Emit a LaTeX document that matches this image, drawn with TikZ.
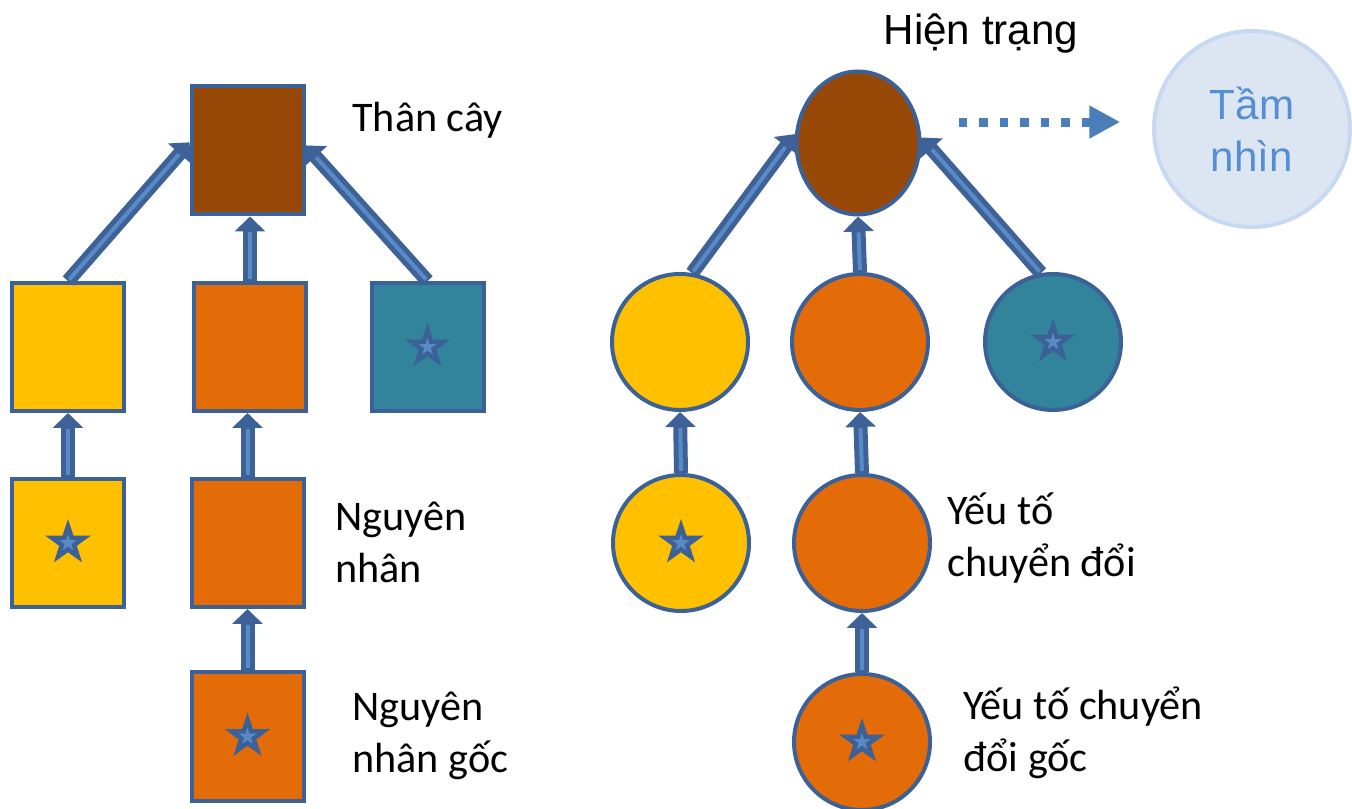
\documentclass[tikz,border=0pt]{standalone}
\usepackage{fontspec}
\setmainfont{Carlito}
\newfontfamily\arialfont{Liberation Sans}
\usetikzlibrary{arrows.meta,shapes.geometric}

\definecolor{edgeblue}{RGB}{60,97,150}
\definecolor{trunk}{RGB}{151,72,6}
\definecolor{gold}{RGB}{255,192,0}
\definecolor{rust}{RGB}{227,108,9}
\definecolor{teal}{RGB}{49,132,155}
\definecolor{arrowdark}{RGB}{62,98,152}
\definecolor{arrowlight}{RGB}{88,138,198}
\definecolor{dotblue}{RGB}{74,126,187}
\definecolor{visionfill}{RGB}{220,230,242}
\definecolor{visionedge}{RGB}{198,217,241}
\definecolor{visiontext}{RGB}{85,142,213}

\begin{document}
\begin{tikzpicture}[
  box/.style={draw=edgeblue, line width=0.08cm, minimum width=2.24cm, minimum height=2.56cm, inner sep=0pt},
  ball/.style={draw=edgeblue, line width=0.08cm, circle, minimum size=2.72cm, inner sep=0pt},
  starmark/.style={star, star points=5, star point ratio=2.6, minimum size=0.96cm, inner sep=0pt,
    fill=edgeblue},
  starcore/.style={star, star points=5, star point ratio=2.6, minimum size=0.36cm, inner sep=0pt,
    fill=arrowlight},
  fatarrow/.style={draw=arrowdark, line width=0.28cm,
    -{Triangle[length=0.3cm, width=0.6cm, fill=arrowdark]},
    postaction={draw=arrowlight, line width=0.08cm, -, shorten >=0.32cm, shorten <=0.04cm}},
  dotarrow/.style={draw=dotblue, line width=0.18cm, dash pattern=on 0.17cm off 0.24cm,
    -{Triangle[length=0.62cm, width=0.62cm]}},
  lbl/.style={inner sep=0pt, align=left, font=\fontsize{24}{29.5}\selectfont}]

\useasboundingbox (0,0) rectangle (27.04,16.16);

% ---------- Left: squares ----------
\node[box, fill=trunk] (t) at (4.95,13.15) {};
\node[box, fill=gold] (y1) at (1.36,9.22) {};
\node[box, fill=rust] (o1) at (5.00,9.22) {};
\node[box, fill=teal] (g1) at (8.55,9.22) {};
\node[box, fill=gold] (y2) at (1.36,5.30) {};
\node[box, fill=rust] (o2) at (4.95,5.30) {};
\node[box, fill=rust] (o3) at (4.95,1.43) {};

\node[starmark] (s1) at (g1) {};
\node[starmark] (s2) at (y2) {};
\node[starmark] (s3) at (o3) {};
\node[starcore] (s1c) at (s1) {};
\node[starcore] (s2c) at (s2) {};
\node[starcore] (s3c) at (s3) {};

% Arrows
\draw[fatarrow] (y1.north) -- (t.172);
\draw[fatarrow] (o1.north) -- (o1.north |- t.south);
\draw[fatarrow] (g1.north) -- (t.5);
\draw[fatarrow] (y2.north) -- (y1.south);
\draw[fatarrow] (o2.north) -- (o2.north |- o1.south);
\draw[fatarrow] (o3.north) -- (o2.south);

\node[lbl, anchor=base west] (lt) at (7.04,13.52) {Thân cây};
\node[lbl, anchor=west] (lc) at (6.70,5.32) {Nguyên\\nhân};
\node[lbl, anchor=west] (lr) at (7.04,1.44) {Nguyên\\nhân gốc};

% ---------- Right: circles ----------
\node[draw=edgeblue, line width=0.08cm, ellipse, fill=trunk, minimum width=2.46cm,
  minimum height=2.86cm, inner sep=0pt] (te) at (17.16,13.30) {};
\node[ball, fill=gold] (yc1) at (13.60,9.32) {};
\node[ball, fill=rust] (oc1) at (17.20,9.32) {};
\node[ball, fill=teal] (gc1) at (21.06,9.32) {};
\node[ball, fill=gold] (yc2) at (13.62,5.30) {};
\node[ball, fill=rust] (oc2) at (17.24,5.30) {};
\node[ball, fill=rust] (oc3) at (17.24,1.32) {};

\node[starmark] (s4) at (gc1) {};
\node[starmark] (s5) at (yc2) {};
\node[starmark] (s6) at (oc3) {};
\node[starcore] (s4c) at (s4) {};
\node[starcore] (s5c) at (s5) {};
\node[starcore] (s6c) at (s6) {};

% Arrows
\draw[fatarrow] (yc1.80) -- (te.172);
\draw[fatarrow] (oc1.north) -- (te.south);
\draw[fatarrow] (gc1.100) -- (te.5);
\draw[fatarrow] (yc2.north) -- (yc1.south);
\draw[fatarrow] (oc2.north) -- (oc1.south);
\draw[fatarrow] (oc3.north) -- (oc2.south);

\node[lbl, anchor=base, font=\arialfont\fontsize{24}{29.5}\selectfont] (lh) at (19.62,15.26) {Hiện trạng};
\node[lbl, anchor=west] (ly) at (18.94,5.40) {Yếu tố\\chuyển đổi};
\node[lbl, anchor=west] (lg) at (19.26,1.50) {Yếu tố chuyển\\đổi gốc};

% Vision
\node[circle, draw=visionedge, fill=visionfill, line width=0.08cm, minimum size=3.92cm,
  inner sep=0pt, align=center, text=visiontext,
  font=\arialfont\fontsize{24}{29.5}\selectfont] (tn) at (25.04,13.58) {Tầm\\nhìn};
\draw[dotarrow, shorten <=0.74cm, shorten >=0.64cm] (te.east |- tn.176) -- (tn.176);

\end{tikzpicture}
\end{document}
